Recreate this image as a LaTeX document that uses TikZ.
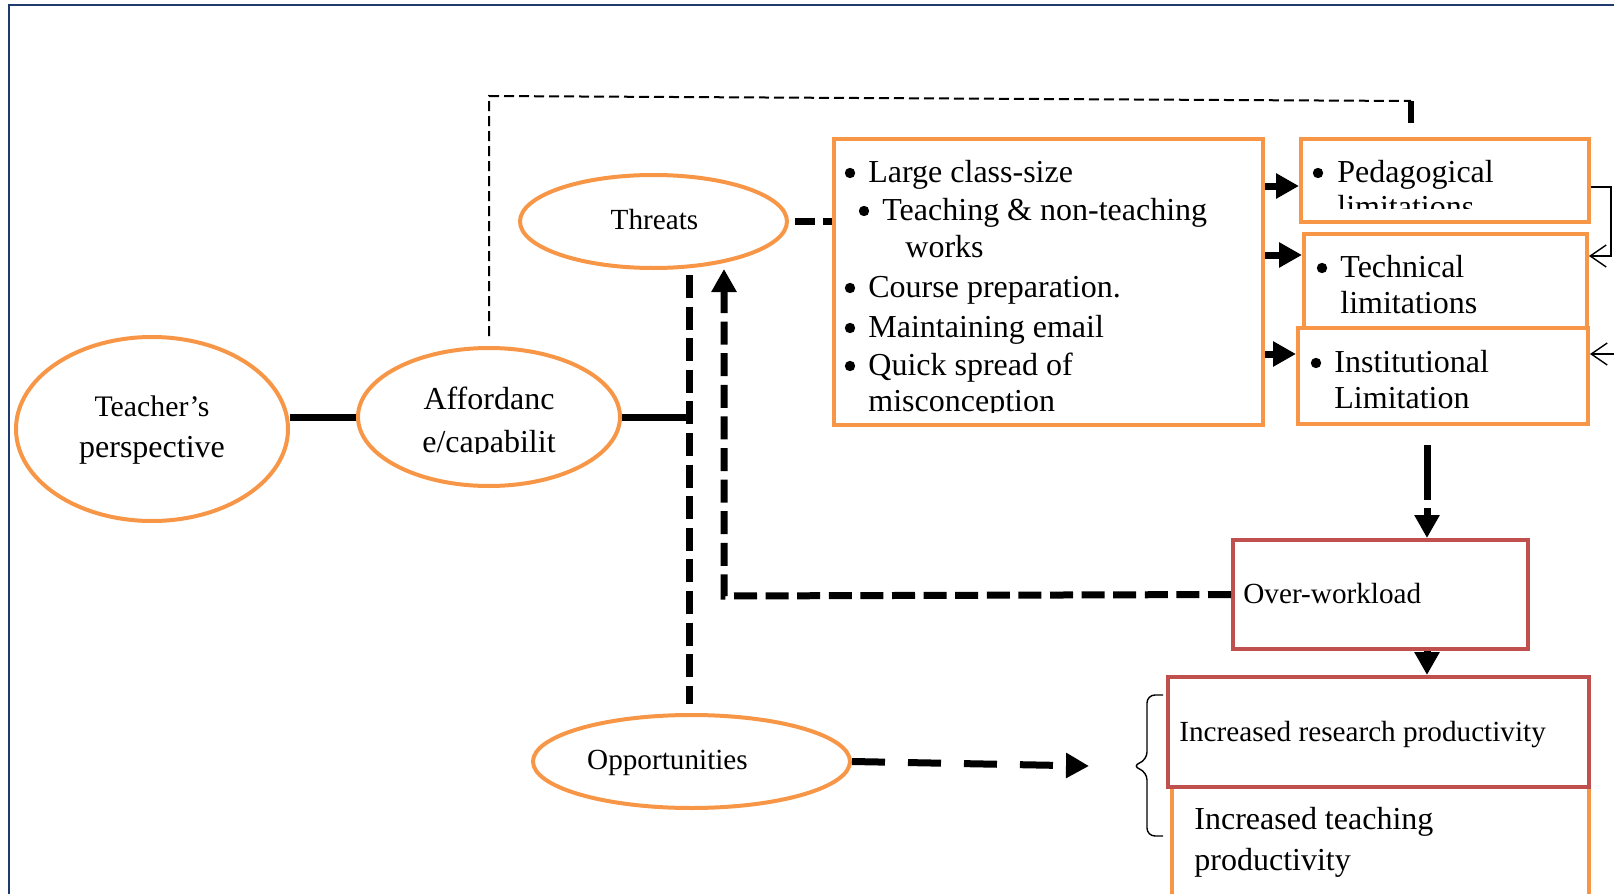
\documentclass[tikz,border=0pt]{standalone}
\usepackage{fontspec}
\setmainfont{Liberation Serif}
\usetikzlibrary{arrows.meta,shapes.geometric}

\definecolor{boxorange}{HTML}{F79646}
\definecolor{boxred}{HTML}{C0504D}
\definecolor{framenavy}{HTML}{1F3A6E}

\newcommand{\bigtxt}{\fontsize{16}{19}\selectfont}
\newcommand{\midtxt}{\fontsize{14.9}{18}\selectfont}
\newcommand{\smalltxt}{\fontsize{14.6}{17.5}\selectfont}

\begin{document}
\begin{tikzpicture}[x=0.5pt,y=-0.5pt,
  oval/.style={ellipse,draw=boxorange,line width=2pt,inner sep=0pt},
  obox/.style={rectangle,draw=boxorange,line width=2pt,fill=white,inner sep=0pt},
  rbox/.style={rectangle,draw=boxred,line width=2pt,fill=white,inner sep=0pt},
  txt/.style={inner sep=0pt,anchor=base west,font=\bigtxt},
  stxt/.style={inner sep=0pt,anchor=base west,font=\smalltxt},
  ctxt/.style={inner sep=0pt,anchor=base,font=\bigtxt},
  sctxt/.style={inner sep=0pt,anchor=base,font=\smalltxt},
  dot/.style={circle,fill=black,inner sep=0pt,minimum size=5.2pt},
  heavy/.style={line width=3.5pt},
  hdash/.style={line width=3.5pt,dash pattern=on 11.5pt off 4.3pt},
  tip/.style={-{Triangle[length=11.5pt,width=12pt]}},
  barb/.style={-{Straight Barb[length=8pt,width=11pt]}},
  thinline/.style={line width=0.7pt}
]
\useasboundingbox (0,0) rectangle (1614,894);

% outer frame
\draw[framenavy,line width=1pt] (8.5,900) -- (8.5,4.5) -- (1620,4.5);

% ovals
\node[oval,minimum width=136pt,minimum height=92pt] (tp) at (152,429) {};
\node[oval,minimum width=131pt,minimum height=69pt] (aff) at (489,417) {};
\node[oval,minimum width=133.5pt,minimum height=46.5pt] (thr) at (653.5,221.5) {};
\node[oval,minimum width=158.5pt,minimum height=46.5pt] (opp) at (691.5,761.5) {};

% boxes
\node[obox,minimum width=214.5pt,minimum height=143pt] (lst) at (1048.5,282) {};
\node[obox,minimum width=144pt,minimum height=41.5pt] (ped) at (1445,180.5) {};
\node[obox,minimum width=141.5pt,minimum height=51pt] (tec) at (1445.5,285) {};
\node[obox,minimum width=145pt,minimum height=48pt] (ins) at (1443,376) {};
\node[rbox,minimum width=147.5pt,minimum height=54.5pt] (ow) at (1380.5,594.5) {};
\node[obox,minimum width=208.5pt,minimum height=62pt] (tch) at (1380.5,849) {};
\node[rbox,minimum width=210.5pt,minimum height=55pt] (res) at (1378.5,732) {};

% oval labels
\node[ctxt,font=\midtxt] (tp1) at (152,416) {Teacher’s};
\node[ctxt] (tp2) at (152,457) {perspective};
\begin{scope}
  \clip (350,340) rectangle (630,453);
  \node[ctxt] (af1) at (489,409) {Affordanc};
  \node[ctxt] (af2) at (489,452) {e/capabilit};
\end{scope}
\node[sctxt] (thrt) at (654.5,229) {Threats};
\node[sctxt] (oppt) at (667.5,769) {Opportunities};

% threat list
\begin{scope}
  \clip (836,141) rectangle (1261,412);
  \node[dot] (b1) at (850,173) {};
  \node[txt]  (l1) at (868,182) {Large class-size};
  \node[dot] (b2) at (864,211) {};
  \node[txt]  (l2) at (882,220) {Teaching \& non-teaching};
  \node[txt]  (l2b) at (905,257) {works};
  \node[dot] (b3) at (850,288) {};
  \node[txt]  (l3) at (868,297) {Course preparation.};
  \node[dot] (b4) at (850,328) {};
  \node[txt]  (l4) at (868,337) {Maintaining email};
  \node[dot] (b5) at (850,366) {};
  \node[txt]  (l5) at (868,375) {Quick spread of};
  \node[txt]  (l5b) at (868,411) {misconception};
\end{scope}

% limitation boxes
\begin{scope}
  \clip (1303,141) rectangle (1587,208);
  \node[dot] (pb) at (1318,173) {};
  \node[txt]  (pt1) at (1337,182) {Pedagogical};
  \node[txt]  (pt2) at (1337,217) {limitations};
\end{scope}
\node[dot] (tb) at (1322,268) {};
\node[txt]  (tt1) at (1340,277) {Technical};
\node[txt]  (tt2) at (1340,313) {limitations};
\node[dot] (ib) at (1316,363) {};
\node[txt]  (it1) at (1334,372) {Institutional};
\node[txt]  (it2) at (1334,408) {Limitation};

% outcome boxes
\node[stxt] (owt) at (1243,603) {Over-workload};
\node[stxt] (rest) at (1179,741) {Increased research productivity};
\node[txt]  (tch1) at (1194,829) {Increased teaching};
\node[txt]  (tch2) at (1194,870) {productivity};

% connectors
\draw[heavy] (aff.west -| tp.east) -- (aff.west);
\coordinate (vtop) at (689,275);
\coordinate (vbot) at (689,704);
\draw[hdash] (vtop) -- (vbot);
\draw[heavy] (aff.east) -- (aff.east -| vtop);

\coordinate (ucorner) at (724,596);
\coordinate (utip) at (724,269);
\draw[hdash,tip] (ow.west) -- (ucorner) -- (utip);

\draw[line width=3.5pt,dash pattern=on 10pt off 4pt,shorten <=3pt] (thr.east) -- (thr.east -| lst.west);

\draw[heavy,tip] (lst.east |- 0,186) -- (ped.west |- 0,186);
\draw[heavy,tip] (lst.east |- 0,255) -- (tec.west |- 0,255);
\draw[heavy,tip] (lst.east |- 0,354) -- (ins.west |- 0,354);

\coordinate (rb1) at (1611,187);
\coordinate (rb2) at (1611,256);
\draw[thinline,barb] (ped.east |- rb1) -- (rb1) -- (rb2) -- (tec.east |- rb2);
\coordinate (rin) at (1620,354);
\draw[thinline,barb] (rin) -- (ins.east |- rin);

\coordinate (d1) at (1427,445);
\draw[line width=3.5pt,dash pattern=on 27.5pt off 4pt,tip] (d1) -- (ow.north -| d1);
\draw[heavy,tip] (ow.south -| d1) -- (res.north -| d1);

\coordinate (oend) at (1089,766);
\draw[line width=3.5pt,dash pattern=on 16.5pt off 11.5pt,tip] (opp.east) -- (oend);

% brace grouping the productivity outcomes
\draw[thinline,rounded corners=4pt] (1163,695) -- (1147,695) -- (1147,760) -- (1132,766) -- (1147,772) -- (1147,836) -- (1163,836);

% thin dashed link from affordance over to pedagogical limitations
\coordinate (t0) at (489,336);
\coordinate (t1) at (489,96);
\coordinate (t2) at (1411,101);
\coordinate (t3) at (1411,123);
\draw[line width=1pt,dash pattern=on 5pt off 2.5pt] (t0) -- (t1) -- (t2);
\draw[line width=3pt] (t2) -- (t3);

\end{tikzpicture}
\end{document}
